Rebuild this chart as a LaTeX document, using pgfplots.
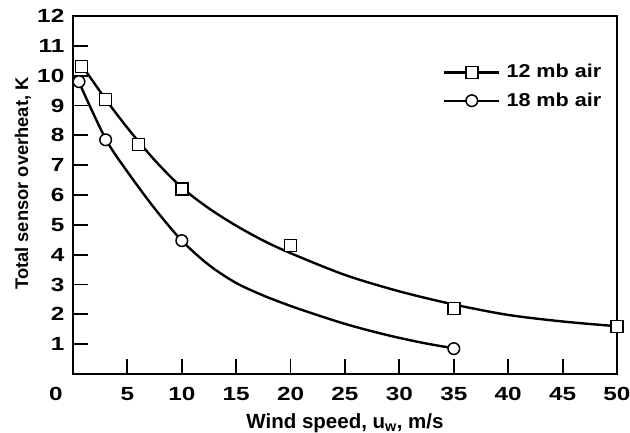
\documentclass[border=0pt]{standalone}
\usepackage{fontspec}
\setmainfont{Liberation Sans}
\newfontfamily\tickfont{Liberation Sans}[FakeStretch=1.28]
\newfontfamily\legfont{Liberation Sans}[FakeStretch=1.16]
\usepackage{pgfplots}
\pgfplotsset{compat=1.18}
\begin{document}
\fontsize{18}{21}\selectfont\bfseries
\begin{tikzpicture}
\begin{axis}[
  name=ax,
  scale only axis, width=544pt, height=358pt,
  xmin=0, xmax=50, ymin=0, ymax=12,
  axis line style={line width=1.8pt},
  xtick={5,10,...,45}, ytick={1,...,11},
  extra x ticks={50}, extra y ticks={12},
  extra tick style={major tick length=0pt},
  tick align=inside, xtick pos=bottom, ytick pos=left,
  major tick length=15pt,
  tick style={line width=1.8pt, black},
  /pgf/number format/assume math mode=true,
  tick label style={font=\tickfont\fontsize{19}{22}\selectfont\bfseries},
  xticklabel style={yshift=-7pt},
  yticklabel style={xshift=-2.5pt},
  xlabel={Wind speed, u\textsubscript{w}, m/s},
  ylabel={Total sensor overheat, K},
  every axis x label/.style={at={(axis description cs:0.5,-0.151)}, anchor=base, font=\fontsize{20.5}{24}\selectfont\bfseries},
  every axis y label/.style={at={(axis description cs:-0.0827,0.532)}, rotate=90, anchor=base, font=\fontsize{18.3}{21}\selectfont\bfseries},
  legend image code/.code={\draw[mark repeat=2,mark phase=2,#1] plot coordinates {(0pt,0pt) (27.5pt,0pt) (55pt,0pt)};},
  legend style={at={(axis cs:34.0,10.45)}, anchor=north west, draw=none, fill=none,
    font=\legfont\fontsize{18.6}{21}\selectfont\bfseries, row sep=8pt, inner sep=0pt,
    /tikz/every odd column/.append style={column sep=4pt}},
  legend cell align=left,
  clip=false,
]
\addlegendimage{black, line width=2.4pt, mark=square*, mark size=6pt, mark options={fill=white, line width=1.5pt, solid}}
\addlegendentry{12 mb air}
\addlegendimage{black, line width=2.4pt, mark=*, mark size=5.8pt, mark options={fill=white, line width=1.5pt, solid}}
\addlegendentry{18 mb air}

% fitted curves
\addplot[black, line width=2.4pt, smooth, forget plot] coordinates {
 (0.8,10.35) (3,9.21) (5,8.25) (7.5,7.17) (10,6.25) (12.5,5.55) (15,4.97) (17.5,4.47)
 (20,4.05) (25,3.32) (30,2.77) (35,2.33) (40,1.98) (45,1.76) (50,1.6)};
\addplot[black, line width=2.4pt, smooth, forget plot] coordinates {
 (0.55,9.78) (3,7.88) (5,6.78) (7.5,5.55) (10,4.47) (12.5,3.65) (15,3.05) (17.5,2.63)
 (20,2.28) (22.5,1.97) (25,1.68) (27.5,1.43) (30,1.21) (32.5,1.02) (35,0.86)};

% measured points
\addplot[only marks, black, mark=square*, mark size=6pt, mark options={fill=white, line width=1.5pt}, forget plot] coordinates {
 (0.8,10.3) (3,9.2) (6,7.7) (10,6.2) (20,4.3) (35,2.2) (50,1.6)};
\addplot[only marks, black, mark=*, mark size=5.8pt, mark options={fill=white, line width=1.5pt}, forget plot] coordinates {
 (0.55,9.8) (3,7.85) (10,4.47) (35,0.85)};

\node[font=\tickfont\fontsize{19}{22}\selectfont\bfseries, anchor=base] at (axis description cs:-0.03125,-0.0754) {0};
\end{axis}
\pgfresetboundingbox
\path ([xshift=-73pt,yshift=-59pt]ax.south west) rectangle ([xshift=13pt,yshift=16pt]ax.north east);
\end{tikzpicture}
\end{document}
